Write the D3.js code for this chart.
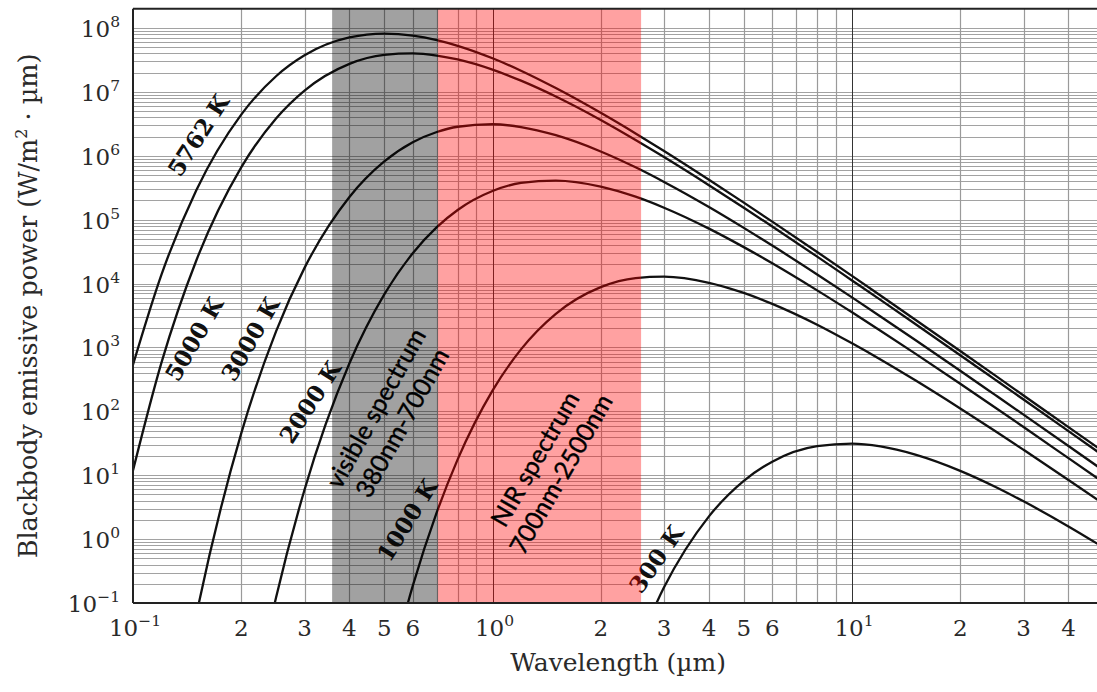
<!DOCTYPE html>
<html>
<head>
<meta charset="utf-8">
<script src="https://cdn.jsdelivr.net/npm/d3@7"></script>
<style>
  html, body { margin: 0; padding: 0; background: #fff; }
  svg { display: block; }
</style>
</head>
<body>
<svg id="chart" width="1097" height="692"></svg>
<script>
// Wavelength samples (µm) shared by every curve
const wavelengths = [0.1, 0.12, 0.15, 0.2, 0.25, 0.3, 0.4, 0.5, 0.6, 0.7, 0.8, 1, 1.2, 1.5, 2, 2.5,
                     3, 4, 5, 6, 8, 10, 12, 15, 20, 25, 30, 40, 50];

// Spectral emissive power, W/(m²·µm); null where the curve is far below the plotted range
const power5762 = [5.35e2, 1.38e4, 2.90e5, 4.42e6, 1.76e7, 3.74e7, 7.12e7, 8.17e7, 7.62e7, 6.47e7, 5.27e7,
                   3.36e7, 2.15e7, 1.15e7, 4.71e6, 2.24e6, 1.19e6, 4.22e5, 1.85e5, 9.32e4, 3.12e4, 1.32e4,
                   6.50e3, 2.72e3, 8.80e2, 3.65e2, 1.77e2, 5.67e1, 2.34e1];
const power5000 = [1.19e1, 5.79e2, 2.30e4, 6.60e5, 3.84e6, 1.05e7, 2.75e7, 3.80e7, 4.01e7, 3.71e7, 3.22e7,
                   2.23e7, 1.50e7, 8.48e6, 3.64e6, 1.77e6, 9.57e5, 3.47e5, 1.54e5, 7.82e4, 2.64e4, 1.12e4,
                   5.55e3, 2.33e3, 7.56e2, 3.14e2, 1.53e2, 4.90e1, 2.02e1];
const power3000 = [null, 6.61e-5, 6.41e-2, 4.51e1, 1.79e3, 1.76e4, 2.27e5, 8.17e5, 1.63e6, 2.36e6, 2.85e6,
                   3.12e6, 2.82e6, 2.10e6, 1.17e6, 6.60e5, 3.90e5, 1.58e5, 7.44e4, 3.93e4, 1.39e4, 6.08e3,
                   3.06e3, 1.31e3, 4.32e2, 1.81e2, 8.88e1, 2.87e1, 1.19e1];
const power2000 = [null, null, null, 2.80e-4, 1.22e-1, 5.93e0, 5.65e2, 6.76e3, 2.99e4, 7.66e4, 1.42e5,
                   2.81e5, 3.76e5, 4.10e5, 3.30e5, 2.29e5, 1.54e5, 7.25e4, 3.72e4, 2.08e4, 7.83e3, 3.55e3,
                   1.83e3, 8.01e2, 2.70e2, 1.15e2, 5.68e1, 1.85e1, 7.74e0];
const power1000 = [null, null, null, null, null, null, null, 3.81e-3, 1.85e-1, 2.64e0, 1.77e1,
                   2.11e2, 9.33e2, 3.36e3, 8.79e3, 1.22e4, 1.28e4, 1.03e4, 7.14e3, 4.81e3, 2.27e3, 1.16e3,
                   6.49e2, 3.06e2, 1.11e2, 4.93e1, 2.50e1, 8.44e0, 3.59e0];
const power300 = [null, null, null, null, null, null, null, null, null, null, null,
                  null, null, null, null, 1.79e-2, 1.76e-1, 2.27e0, 8.17e0, 1.63e1, 2.85e1, 3.12e1,
                  2.82e1, 2.10e1, 1.17e1, 6.60e0, 3.90e0, 1.58e0, 7.44e-1];

const seriesNames = ["5762 K", "5000 K", "3000 K", "2000 K", "1000 K", "300 K"];
const seriesValues = [power5762, power5000, power3000, power2000, power1000, power300];

// Spectral bands (µm)
const visibleBand = [0.358, 0.705];
const nirBand = [0.705, 2.59];

// Axis tick labels
const xDecades = [-1, 0, 1];
const xMinorLabels = [2, 3, 4, 5, 6];
const yDecades = [-1, 0, 1, 2, 3, 4, 5, 6, 7, 8];

// ---------------------------------------------------------------------------
const svg = d3.select("#chart");
const W = 1097, H = 692;
const plot = { left: 133, right: 1103.3, top: 8.8, bottom: 603 };

const x = d3.scaleLog().domain([0.1, 50]).range([plot.left, plot.right]);
const y = d3.scaleLog().domain([0.1, 2e8]).range([plot.bottom, plot.top]);

const serif = "'DejaVu Serif', 'Liberation Serif', serif";
const sans = "Lato, 'Open Sans', sans-serif";

svg.append("rect").attr("width", W).attr("height", H).attr("fill", "#fff");

svg.append("defs").append("clipPath").attr("id", "plotClip")
  .append("rect")
  .attr("x", plot.left).attr("y", plot.top)
  .attr("width", plot.right - plot.left).attr("height", plot.bottom - plot.top);

const crisp = v => Math.round(v) + 0.5;

// Grid
const grid = svg.append("g").attr("clip-path", "url(#plotClip)");
const yGridValues = [];
for (let e = -1; e <= 8; e++) for (let k = 1; k <= 9; k++) {
  const v = k * Math.pow(10, e);
  if (v > 0.1 && v < 2e8) yGridValues.push(v);
}
grid.selectAll("line.hgrid").data(yGridValues).join("line")
  .attr("class", "hgrid")
  .attr("x1", plot.left).attr("x2", plot.right)
  .attr("y1", d => crisp(y(d))).attr("y2", d => crisp(y(d)))
  .attr("stroke", "#a2a2a2").attr("stroke-width", 1);

const xGridValues = [];
for (let e = -1; e <= 1; e++) for (let k = 1; k <= 9; k++) {
  const v = k * Math.pow(10, e);
  if (v > 0.1 && v < 50) xGridValues.push({ v, major: k === 1 });
}
grid.selectAll("line.vgrid").data(xGridValues).join("line")
  .attr("class", "vgrid")
  .attr("y1", plot.top).attr("y2", plot.bottom)
  .attr("x1", d => crisp(x(d.v))).attr("x2", d => crisp(x(d.v)))
  .attr("stroke", d => d.major ? "#333" : "#9a9a9a")
  .attr("stroke-width", d => d.major ? 1 : 1.2);

// Curves
const line = d3.line()
  .defined(d => d.p != null)
  .x(d => x(d.w))
  .y(d => y(d.p))
  .curve(d3.curveMonotoneX);

const curves = svg.append("g").attr("clip-path", "url(#plotClip)");
seriesValues.forEach((vals, i) => {
  const pts = wavelengths.map((w, j) => ({ w, p: vals[j] }));
  curves.append("path")
    .datum(pts)
    .attr("d", line)
    .attr("fill", "none")
    .attr("stroke", "#111")
    .attr("stroke-width", 2.3)
    .attr("stroke-linejoin", "round");
});

// Temperature labels laid along each curve
const curveLabels = [
  { name: "5762 K", w: 0.1517, p: 2.11e6, angle: -57 },
  { name: "5000 K", w: 0.1478, p: 1.36e3, angle: -60 },
  { name: "3000 K", w: 0.2116, p: 1.36e3, angle: -60 },
  { name: "2000 K", w: 0.3107, p: 1.40e2, angle: -57 },
  { name: "1000 K", w: 0.578, p: 1.99e0, angle: -58 },
  { name: "300 K", w: 2.85, p: 0.489, angle: -55 }
];
svg.append("g").selectAll("text").data(curveLabels).join("text")
  .attr("transform", d => `translate(${x(d.w)},${y(d.p)}) rotate(${d.angle})`)
  .attr("text-anchor", "middle")
  .attr("dominant-baseline", "central")
  .attr("font-family", serif)
  .attr("font-weight", "bold")
  .attr("font-size", 23)
  .attr("fill", "#111")
  .text(d => d.name);

// Translucent spectral bands
const bands = svg.append("g");
bands.append("rect")
  .attr("x", x(visibleBand[0])).attr("y", plot.top)
  .attr("width", x(visibleBand[1]) - x(visibleBand[0]))
  .attr("height", plot.bottom - plot.top)
  .attr("fill", "rgba(0,0,0,0.37)");
bands.append("rect")
  .attr("x", x(nirBand[0])).attr("y", plot.top)
  .attr("width", x(nirBand[1]) - x(nirBand[0]))
  .attr("height", plot.bottom - plot.top)
  .attr("fill", "rgba(255,0,0,0.37)");

// Frame
const frame = svg.append("g").attr("stroke", "#222").attr("stroke-width", 2).attr("fill", "none");
frame.append("line").attr("x1", plot.left).attr("x2", plot.right).attr("y1", plot.top).attr("y2", plot.top);
frame.append("line").attr("x1", plot.left).attr("x2", plot.left).attr("y1", plot.top).attr("y2", plot.bottom);
frame.append("line").attr("x1", plot.left).attr("x2", plot.right).attr("y1", plot.bottom).attr("y2", plot.bottom);

// Tick labels
const tickFont = 23, supFont = 15.5;
const powerLabel = (sel, exp) => {
  sel.append("tspan").text("10");
  sel.append("tspan").attr("dy", -10).attr("font-size", supFont)
    .text(exp < 0 ? "\u2212" + (-exp) : String(exp));
};

const xTicks = [];
xDecades.forEach(e => {
  xTicks.push({ v: Math.pow(10, e), exp: e });
  xMinorLabels.forEach(k => {
    const v = k * Math.pow(10, e);
    if (v < 45) xTicks.push({ v, k });
  });
});
const xLab = svg.append("g")
  .attr("font-family", serif).attr("font-size", tickFont).attr("fill", "#2a2a2a");
xTicks.forEach(t => {
  const txt = xLab.append("text")
    .attr("x", x(t.v) + (t.exp !== undefined ? 2 : 0))
    .attr("y", 636)
    .attr("text-anchor", "middle");
  if (t.exp !== undefined) powerLabel(txt, t.exp); else txt.text(t.k);
});

const yLab = svg.append("g")
  .attr("font-family", serif).attr("font-size", tickFont).attr("fill", "#2a2a2a");
yDecades.forEach(e => {
  const txt = yLab.append("text")
    .attr("x", 120)
    .attr("y", y(Math.pow(10, e)) + 9)
    .attr("text-anchor", "end");
  powerLabel(txt, e);
});

// Axis titles
svg.append("text")
  .attr("x", (plot.left + plot.right) / 2).attr("y", 671)
  .attr("text-anchor", "middle")
  .attr("font-family", serif).attr("font-size", 25).attr("fill", "#2a2a2a")
  .text("Wavelength (\u00b5m)");

const yTitle = svg.append("text")
  .attr("transform", `translate(37,${(plot.top + plot.bottom) / 2}) rotate(-90)`)
  .attr("text-anchor", "middle")
  .attr("font-family", serif).attr("font-size", 25.5).attr("fill", "#2a2a2a");
yTitle.append("tspan").text("Blackbody emissive power (W/m");
yTitle.append("tspan").attr("dy", -10).attr("font-size", 16).text("2");
yTitle.append("tspan").attr("dy", 10).text(" \u00b7 \u00b5m)");

// Band captions
const bandLabels = [
  { lines: ["visible spectrum", "380nm-700nm"], w: 0.512, p: 87.7, angle: -61 },
  { lines: ["NIR spectrum", "700nm-2500nm"], w: 1.418, p: 13.96, angle: -60 }
];
bandLabels.forEach(b => {
  const g = svg.append("g")
    .attr("transform", `translate(${x(b.w)},${y(b.p)}) rotate(${b.angle})`);
  b.lines.forEach((s, i) => {
    g.append("text")
      .attr("x", 0).attr("y", (i - 0.5) * 30)
      .attr("text-anchor", "middle")
      .attr("dominant-baseline", "central")
      .attr("font-family", sans).attr("font-size", 25)
      .attr("fill", "#000")
      .attr("stroke", "#000").attr("stroke-width", 0.35)
      .text(s);
  });
});
</script>
</body>
</html>
